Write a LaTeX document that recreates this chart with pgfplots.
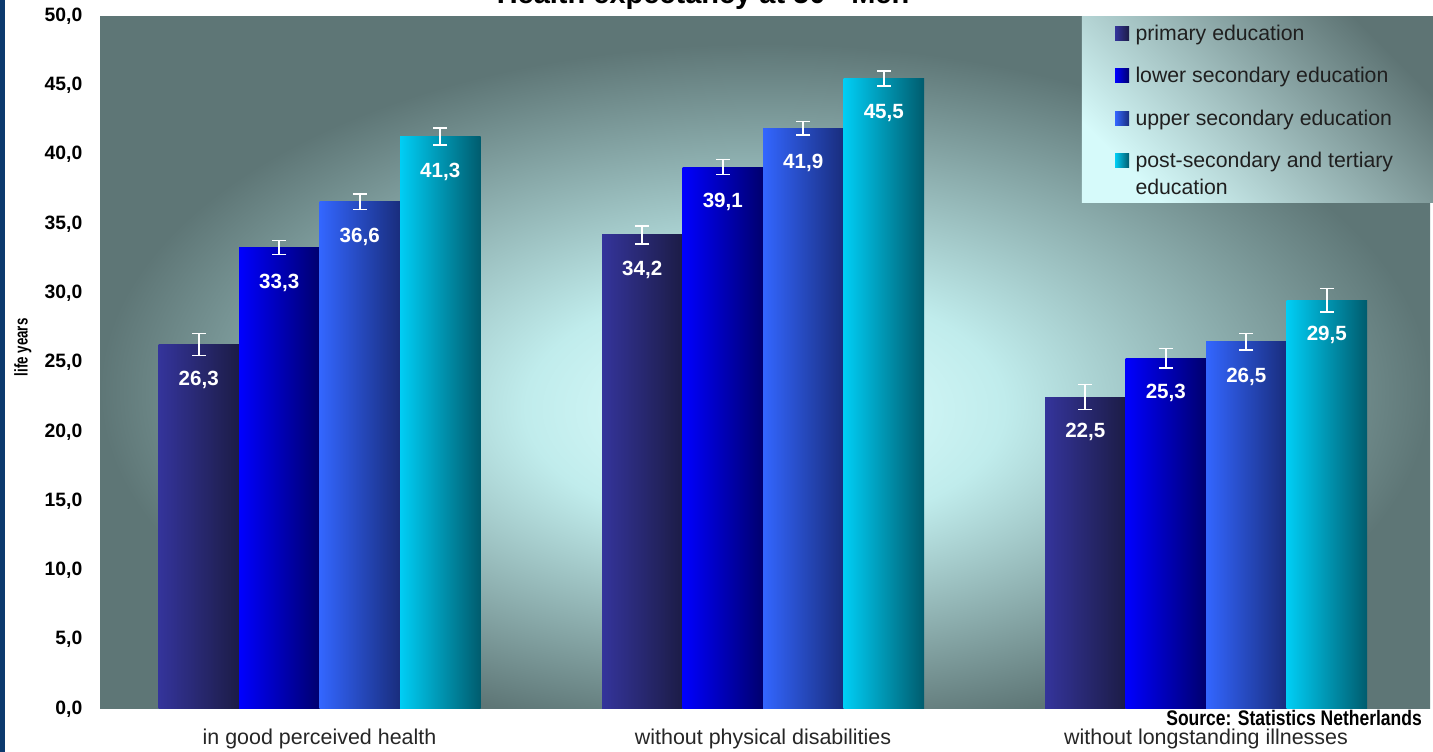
\documentclass[border=0pt]{standalone}
\usepackage{pgfplots}
\pgfplotsset{compat=1.18}
\usepackage{fontspec}
\setmainfont{Liberation Sans}
\definecolor{stripe}{RGB}{12,58,110}
\definecolor{bgin}{RGB}{212,248,248}
\definecolor{bgmid}{RGB}{192,236,236}
\definecolor{bgout}{RGB}{94,118,118}
\definecolor{lgdark}{RGB}{94,116,116}
\definecolor{lglight}{RGB}{214,250,250}
\definecolor{pL}{RGB}{52,52,155}\definecolor{pR}{RGB}{28,28,70}
\definecolor{lL}{RGB}{0,0,255}\definecolor{lR}{RGB}{0,0,110}
\definecolor{uL}{RGB}{51,102,255}\definecolor{uR}{RGB}{25,45,125}
\definecolor{tL}{RGB}{0,206,245}\definecolor{tR}{RGB}{0,92,110}
\pgfdeclareradialshading{bgshade}{\pgfpoint{0bp}{-4bp}}{color(0bp)=(bgin); color(4bp)=(bgin); color(9bp)=(bgmid); color(25bp)=(bgout); color(50bp)=(bgout)}
\pgfplotsset{
  legsq/.style={legend image code/.code={\path[##1] (0cm,0cm) rectangle (0.28cm,0.28cm);}},
  s1/.style={left color=pL, right color=pR, draw=none, bar shift=-2.415cm, legsq},
  s2/.style={left color=lL, right color=lR, draw=none, bar shift=-0.805cm, legsq},
  s3/.style={left color=uL, right color=uR, draw=none, bar shift=0.805cm, legsq},
  s4/.style={left color=tL, right color=tR, draw=none, bar shift=2.415cm, legsq},
}
\begin{document}
\begin{tikzpicture}
\useasboundingbox (0,0) rectangle (28.66cm,15.04cm);
\fill[white] (0,0) rectangle (28.66cm,15.04cm);
\fill[stripe] (0,0) rectangle (0.1cm,15.04cm);
\begin{axis}[
  at={(2cm,0.86cm)}, anchor=south west,
  scale only axis, width=26.6cm, height=13.86cm,
  xmin=1, xmax=14.3, ymin=0, ymax=50,
  clip=false,
  axis line style={draw=none},
  axis background/.style={shade, shading=bgshade},
  ybar=0pt, bar width=1.61cm,
  xtick={3.195,7.63,12.06},
  xticklabels={in good perceived health, without physical disabilities, without longstanding illnesses},
  xticklabel style={anchor=base, yshift=-0.72cm, font=\fontsize{12.2}{14}\selectfont, text=black!85},
  ytick={0,5,...,50},
  major tick length=0pt,
  yticklabel style={font=\bfseries\fontsize{11}{13}\selectfont, xshift=-0.23cm},
  /pgf/number format/fixed, /pgf/number format/fixed zerofill,
  /pgf/number format/precision=1, /pgf/number format/use comma,
  /pgf/number format/assume math mode=true,
  ylabel={\scalebox{0.72}[1]{life years}},
  ylabel style={at={(axis description cs:-0.058,0.522)}, anchor=center, font=\bfseries\fontsize{10.5}{12}\selectfont},
  title={Health expectancy at 50 - Men},
  title style={at={(axis description cs:0.4534,1)}, anchor=base, yshift=0.03cm, font=\bfseries\fontsize{16.5}{20}\selectfont},
  error bars/y dir=both, error bars/y explicit,
  error bars/error bar style={draw=white, line width=0.9pt},
  error bars/error mark options={rotate=90, draw=white, mark size=0.14cm, line width=0.9pt},
  nodes near coords={\pgfmathprintnumber{\pgfplotspointmeta}},
  nodes near coords align=center,
  nodes near coords style={anchor=center, yshift=-0.7cm, text=white, font=\bfseries\fontsize{11.7}{14}\selectfont},
  legend cell align=left,
  legend style={at={(1,1)}, anchor=north east, draw=none, fill=none,
    inner xsep=0.68cm, inner ysep=0.12cm, row sep=0.39cm, column sep=0.08cm,
    font=\fontsize{12.1}{15.3}\selectfont, text=black!88,
    nodes={inner sep=0.05cm}, cells={anchor=base west}},
]
\path[top color=lgdark, bottom color=lglight, shading angle=-45]
  (axis description cs:0.7383,0.7316) rectangle (axis description cs:1.0023,1);
\addplot[s1] coordinates {(3.195,26.3) +- (0,0.8)};
\addlegendentry{primary education}
\addplot[s1, forget plot] coordinates {(7.63,34.2) +- (0,0.65)};
\addplot[s1, forget plot] coordinates {(12.06,22.5) +- (0,0.9)};
\addplot[s2] coordinates {(3.195,33.3) +- (0,0.5)};
\addlegendentry{lower secondary education}
\addplot[s2, forget plot] coordinates {(7.63,39.1) +- (0,0.55)};
\addplot[s2, forget plot] coordinates {(12.06,25.3) +- (0,0.7)};
\addplot[s3] coordinates {(3.195,36.6) +- (0,0.55)};
\addlegendentry{upper secondary education}
\addplot[s3, forget plot] coordinates {(7.63,41.9) +- (0,0.5)};
\addplot[s3, forget plot] coordinates {(12.06,26.5) +- (0,0.6)};
\addplot[s4] coordinates {(3.195,41.3) +- (0,0.6)};
\addlegendentry{\vtop{\hbox{post-secondary and tertiary}\hbox{education}}}
\addplot[s4, forget plot] coordinates {(7.63,45.5) +- (0,0.55)};
\addplot[s4, forget plot] coordinates {(12.06,29.5) +- (0,0.85)};
\node[anchor=base east, font=\bfseries\fontsize{12}{14}\selectfont] at (axis description cs:0.9985,-0.0231) {\scalebox{0.83}[1]{Source: Statistics Netherlands}};
\end{axis}
\end{tikzpicture}
\end{document}
